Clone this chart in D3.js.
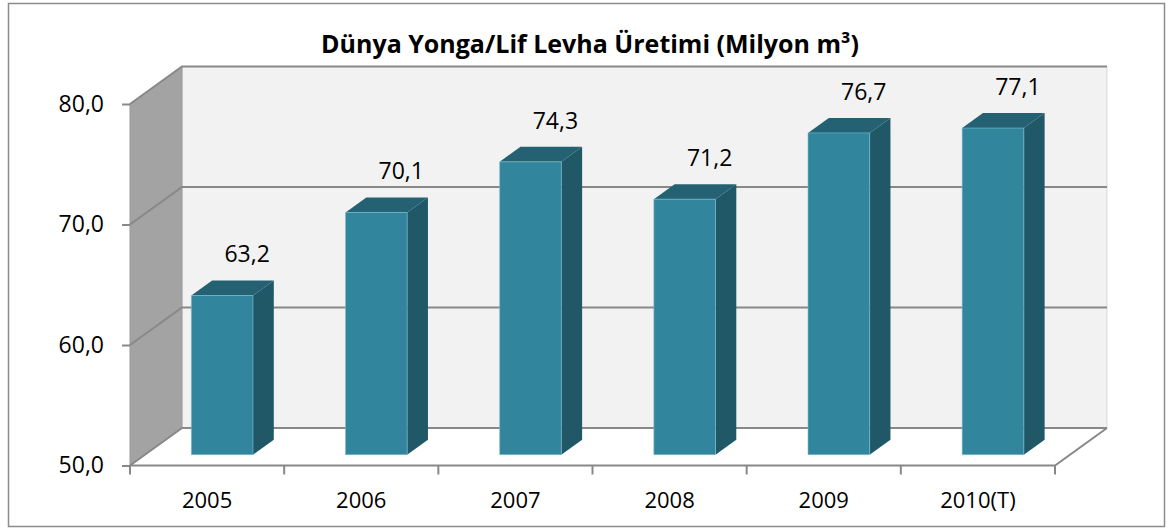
<!DOCTYPE html>
<html>
<head>
<meta charset="utf-8">
<script src="https://cdn.jsdelivr.net/npm/d3@7"></script>
<style>
  body { margin: 0; background: #fff; }
  text { font-family: "Open Sans", "Noto Sans", sans-serif; fill: #000; }
</style>
</head>
<body>
<script>
// Dünya yonga/lif levha üretimi, 3B sütun grafiği

var years = ["2005", "2006", "2007", "2008", "2009", "2010(T)"];
var values = [63.2, 70.1, 74.3, 71.2, 76.7, 77.1];
var yTicks = [50, 60, 70, 80];
var title = "Dünya Yonga/Lif Levha Üretimi (Milyon m³)";

var w = 1173;
var h = 531;
// derinlik kayması (arka duvar)
var DX = 52;
var DY = 37.5;
// sütunun derinlikteki ön ve arka yüzü
var z0 = 0.29;
var z1 = 0.69;

var svg = d3
  .select("body")
  .append("svg")
  .attr("width", w)
  .attr("height", h);

// dış çerçeve
svg
  .append("rect")
  .attr("x", 8.5)
  .attr("y", 3.5)
  .attr("width", 1156)
  .attr("height", 523)
  .attr("fill", "#fff")
  .attr("stroke", "#8c8c8c")
  .attr("stroke-width", 1.5);

var xScale = d3
  .scaleBand()
  .domain(years)
  .range([130, 1055])
  .paddingInner(0)
  .paddingOuter(0);

var yScale = d3
  .scaleLinear()
  .domain([50, 80])
  .range([465.5, 104]);

var y0 = yScale.domain()[0];
var y1 = yScale.domain()[1];
var xL = xScale.range()[0];
var xR = xScale.range()[1];

function proj(px, v, z) {
  return [px + z * DX, yScale(v) - z * DY];
}
function poly(pts) {
  return pts.map(function(p) { return p.join(","); }).join(" ");
}

// arka duvar
svg
  .append("polygon")
  .attr("points", poly([proj(xL, y0, 1), proj(xR, y0, 1), proj(xR, y1, 1), proj(xL, y1, 1)]))
  .attr("fill", "#f2f2f2")
  .attr("stroke", "#d9d9d9")
  .attr("stroke-width", 1);

// yan duvar
svg
  .append("polygon")
  .attr("points", poly([proj(xL, y0, 0), proj(xL, y0, 1), proj(xL, y1, 1), proj(xL, y1, 0)]))
  .attr("fill", "#a3a3a3")
  .attr("stroke", "#9a9a9a")
  .attr("stroke-width", 1);

// ızgara çizgileri
var grid = svg.append("g").attr("stroke", "#888").attr("stroke-width", 2).attr("fill", "none");
yTicks.forEach(function(v) {
  var a = proj(xL, v, 0), b = proj(xL, v, 1), c = proj(xR, v, 1);
  grid.append("polyline").attr("points", poly([a, b, c]));
});

// zemin ön kenarı
grid
  .append("polyline")
  .attr("points", poly([proj(xL, y0, 0), proj(xR, y0, 0), proj(xR, y0, 1)]));

// sütunlar
var bw = xScale.bandwidth() * 0.4;
var bars = svg
  .selectAll("g.bar")
  .data(values)
  .enter()
  .append("g")
  .attr("class", "bar");

bars.each(function(d, i) {
  var g = d3.select(this);
  var l = xScale(years[i]) + (xScale.bandwidth() - bw) / 2;
  var r = l + bw;
  // yan yüz
  g.append("polygon")
    .attr("points", poly([proj(r, y0, z0), proj(r, y0, z1), proj(r, d, z1), proj(r, d, z0)]))
    .attr("fill", "#215868");
  // üst yüz
  g.append("polygon")
    .attr("points", poly([proj(l, d, z0), proj(r, d, z0), proj(r, d, z1), proj(l, d, z1)]))
    .attr("fill", "#246273");
  // ön yüz
  g.append("polygon")
    .attr("points", poly([proj(l, y0, z0), proj(r, y0, z0), proj(r, d, z0), proj(l, d, z0)]))
    .attr("fill", "#31859c")
    .attr("stroke", "#7fc0d2")
    .attr("stroke-opacity", 0.6)
    .attr("stroke-width", 1);
});

// değer etiketleri
svg
  .selectAll("text.label")
  .data(values)
  .enter()
  .append("text")
  .attr("class", "label")
  .attr("x", function(d, i) {
    return xScale(years[i]) + xScale.bandwidth() / 2 + 40;
  })
  .attr("y", function(d) {
    return yScale(d) - 52;
  })
  .attr("dy", "0.35em")
  .attr("text-anchor", "middle")
  .style("font-size", "23px")
  .text(function(d) {
    return d3.format(".1f")(d).replace(".", ",");
  });

// y ekseni
var yAxis = d3
  .axisLeft(yScale)
  .tickValues(yTicks)
  .tickSize(8)
  .tickPadding(18)
  .tickFormat(function(d) {
    return d3.format(".1f")(d).replace(".", ",");
  });

var yg = svg
  .append("g")
  .attr("transform", "translate(" + xL + ",0)")
  .call(yAxis);
yg.select(".domain").remove();
yg.selectAll(".tick line").attr("stroke", "#888").attr("stroke-width", 2);
yg.selectAll(".tick text").style("font-size", "23px").attr("fill", "#000");

// x ekseni: etiketler kategori ortasında, çentikler sınırlarda
var xAxis = d3.axisBottom(xScale).tickSize(0).tickPadding(27);
var xg = svg
  .append("g")
  .attr("transform", "translate(0," + yScale(y0) + ")")
  .call(xAxis);
xg.select(".domain").remove();
xg.selectAll(".tick text").style("font-size", "22px").attr("fill", "#000");

var bounds = years.map(function(d) { return xScale(d); }).concat([xR]);
svg
  .append("g")
  .selectAll("line")
  .data(bounds)
  .enter()
  .append("line")
  .attr("x1", function(d) { return d; })
  .attr("x2", function(d) { return d; })
  .attr("y1", yScale(y0))
  .attr("y2", yScale(y0) + 9)
  .attr("stroke", "#888")
  .attr("stroke-width", 2);

// başlık
svg
  .append("text")
  .attr("x", 590)
  .attr("y", 53)
  .attr("text-anchor", "middle")
  .style("font-size", "25px")
  .style("font-weight", "bold")
  .text(title);
</script>
</body>
</html>
